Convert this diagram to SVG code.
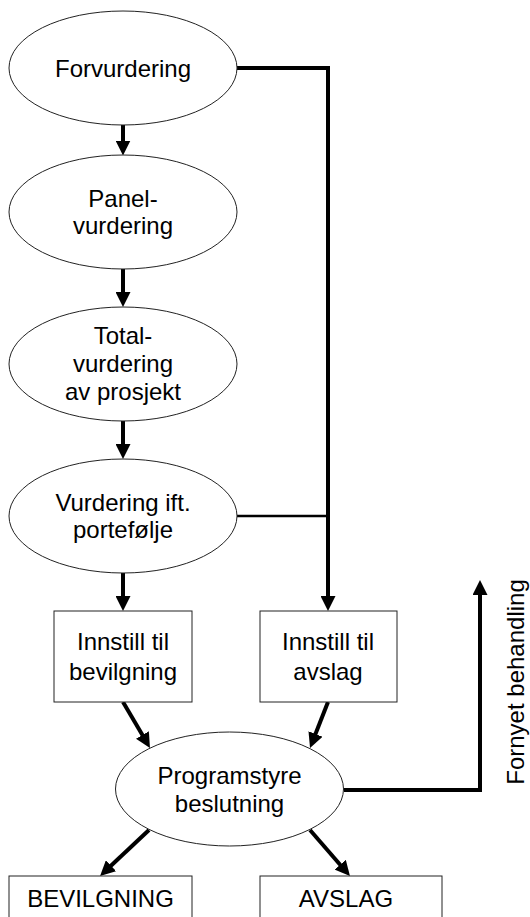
<svg xmlns="http://www.w3.org/2000/svg" width="530" height="917" viewBox="0 0 530 917">
<style>
.n{fill:#fff;stroke:#222;stroke-width:1}
.t{font-family:"Liberation Sans",Arial,sans-serif;font-size:24px;fill:#000;text-anchor:middle}
.c{fill:none;stroke:#000;stroke-width:4}
.a{marker-end:url(#ah)}
</style>
<defs>
<marker id="ah" viewBox="0 0 15 15" markerWidth="15" markerHeight="15" markerUnits="userSpaceOnUse" refX="3" refY="7.5" orient="auto">
<path d="M0,0 L15,7.5 L0,15 z" fill="#000"/>
</marker>
</defs>
<rect width="530" height="917" fill="#fff"/>
<g id="connectors">
<path class="c a" d="M123,125 V143.5"/>
<path class="c a" d="M123,269 V295"/>
<path class="c a" d="M123,421 V447"/>
<path class="c a" d="M123,573 V599"/>
<path class="c a" d="M237,68 H328 V599"/>
<path class="c" style="stroke-width:2.5" d="M237,516 H328"/>
<path class="c a" d="M123,702 L143.9,737.6"/>
<path class="c a" d="M328,702 L314.4,736.8"/>
<path class="c a" d="M149,830 L108.8,867.8"/>
<path class="c a" d="M310,830 L342.1,867"/>
<path class="c a" d="M344,790 H480 V592"/>
</g>
<g id="forvurdering">
<ellipse class="n" cx="123" cy="68" rx="114" ry="57"/>
<text class="t" x="123" y="77">Forvurdering</text>
</g>
<g id="panelvurdering">
<ellipse class="n" cx="123" cy="212" rx="114" ry="57"/>
<text class="t" x="123" y="207">Panel-</text>
<text class="t" x="123" y="234">vurdering</text>
</g>
<g id="totalvurdering">
<ellipse class="n" cx="123" cy="364" rx="114" ry="57"/>
<text class="t" x="123" y="344">Total-</text>
<text class="t" x="123" y="372">vurdering</text>
<text class="t" x="123" y="400">av prosjekt</text>
</g>
<g id="portefolje">
<ellipse class="n" cx="123" cy="516" rx="114" ry="57"/>
<text class="t" x="123" y="511">Vurdering ift.</text>
<text class="t" x="123" y="538">portefølje</text>
</g>
<g id="innstill-bevilgning">
<rect class="n" x="54" y="611" width="138" height="91"/>
<text class="t" x="123" y="650">Innstill til</text>
<text class="t" x="123" y="680">bevilgning</text>
</g>
<g id="innstill-avslag">
<rect class="n" x="260" y="611" width="137" height="91"/>
<text class="t" x="328" y="650">Innstill til</text>
<text class="t" x="328" y="680">avslag</text>
</g>
<g id="programstyre">
<ellipse class="n" cx="229.5" cy="789" rx="114" ry="57"/>
<text class="t" x="229.5" y="784">Programstyre</text>
<text class="t" x="229.5" y="812">beslutning</text>
</g>
<g id="fornyet">
<text class="t" transform="translate(524,682) rotate(-90)" x="0" y="0">Fornyet behandling</text>
</g>
<g id="bevilgning">
<rect class="n" x="9" y="876" width="183" height="60"/>
<text class="t" x="100.5" y="907">BEVILGNING</text>
</g>
<g id="avslag">
<rect class="n" x="260" y="876" width="182" height="60"/>
<text class="t" x="346" y="907">AVSLAG</text>
</g>
</svg>
